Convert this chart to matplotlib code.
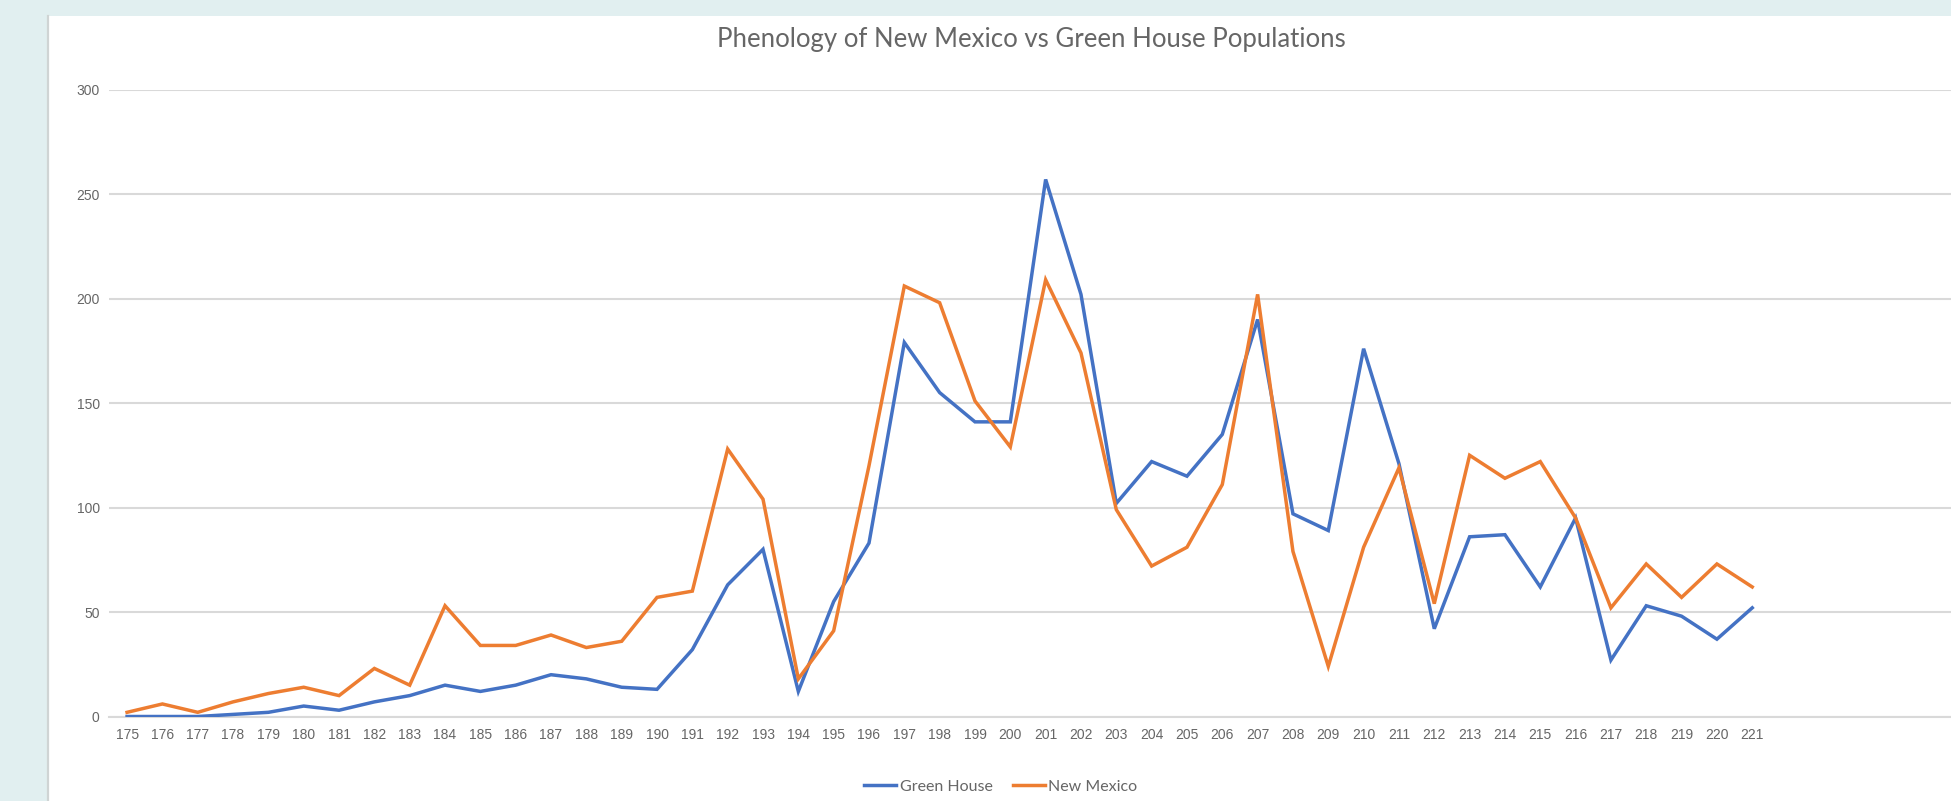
import matplotlib
matplotlib.use("Agg")
import matplotlib.pyplot as plt
from matplotlib.patches import Rectangle
from matplotlib.lines import Line2D

# ---- data ----
days = list(range(175, 222))
green_house = [0, 0, 0, 1, 2, 5, 3, 7, 10, 15, 12, 15, 20, 18, 14, 13, 32, 63, 80, 12,
               55, 83, 179, 155, 141, 141, 257, 202, 102, 122, 115, 135, 190, 97, 89,
               176, 121, 42, 86, 87, 62, 95, 27, 53, 48, 37, 52]
new_mexico = [2, 6, 2, 7, 11, 14, 10, 23, 15, 53, 34, 34, 39, 33, 36, 57, 60, 128, 104, 18,
              41, 120, 206, 198, 151, 129, 209, 174, 99, 72, 81, 111, 202, 79, 24,
              81, 119, 54, 125, 114, 122, 95, 52, 73, 57, 73, 62]
y_ticks = [0, 50, 100, 150, 200, 250, 300]
series_names = ["Green House", "New Mexico"]
title = "Phenology of New Mexico vs Green House Populations"

W, H = 1951, 801
fig = plt.figure(figsize=(W / 100, H / 100), dpi=100)
fig.patch.set_facecolor("#e1eff0")

# white chart area
fig.add_artist(Rectangle((48 / W, 0), 1 - 48 / W, 1 - 16 / H, transform=fig.transFigure,
                         facecolor="white", edgecolor="none", zorder=0))
fig.add_artist(Line2D([48 / W, 48 / W], [0, 1 - 16 / H], transform=fig.transFigure,
                      color="#cfd4d4", lw=1.6, zorder=1))

left_px, right_px = 109.4, 109.4 + 53 * 35.33
bot_px, top_px = 716.5, 89.6
ax = fig.add_axes([left_px / W, 1 - bot_px / H, (right_px - left_px) / W, (bot_px - top_px) / H])
ax.set_facecolor("none")
ax.set_xlim(174.5, 227.5)
ax.set_ylim(0, 300)

grid_c = "#d9d9d9"
for s in ["top", "right", "left"]:
    ax.spines[s].set_visible(False)
ax.spines["bottom"].set_color(grid_c)
ax.spines["bottom"].set_linewidth(1.5)
ax.set_yticks(y_ticks)
ax.yaxis.grid(True, color=grid_c, lw=1.5)
ax.set_axisbelow(True)

ax.set_xticks(days)
ax.set_xticklabels([str(d) for d in days])
tick_font = ["Liberation Sans Narrow", "Liberation Sans", "DejaVu Sans"]
ax.tick_params(axis="x", length=0, pad=8, labelsize=10, labelcolor="#666666")
ax.tick_params(axis="y", length=0, pad=7, labelsize=10, labelcolor="#666666")
for lab in ax.get_xticklabels() + ax.get_yticklabels():
    lab.set_family(tick_font)

l1, = ax.plot(days, green_house, color="#4472C4", lw=2.5, label=series_names[0],
              solid_joinstyle="miter", zorder=3)
l2, = ax.plot(days, new_mexico, color="#ED7D31", lw=2.5, label=series_names[1],
              solid_joinstyle="miter", zorder=4)

fig.legend(handles=[l1, l2], loc="center", bbox_to_anchor=(1001 / W, 1 - 787 / H),
           ncol=2, frameon=False, handlelength=2.0, handletextpad=0.2, columnspacing=1.3,
           prop={"family": ["Lato", "DejaVu Sans"], "size": 11.5}, labelcolor="#666666")

fig.text(1031 / W, 1 - 39 / H, title, ha="center", va="center", color="#666666",
         fontsize=18.5, family=["Lato", "DejaVu Sans"])

fig.savefig("out.png", dpi=100, facecolor=fig.get_facecolor())
